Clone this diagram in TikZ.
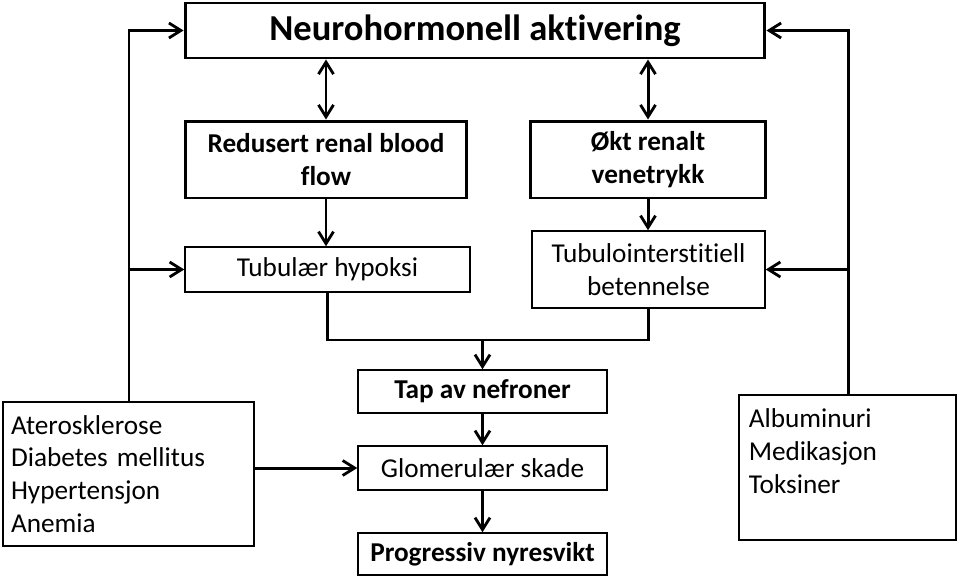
\documentclass[tikz,border=0pt]{standalone}
\usepackage{fontspec}
\setmainfont{Carlito}[Ligatures=NoCommon]
\usetikzlibrary{arrows.meta}

\tikzset{
  box/.style={draw, line width=0.85pt, inner sep=2pt, align=center,
    font=\fontsize{15.5}{18.7}\selectfont},
  hbox/.style={box, line width=1.7pt, font=\fontsize{15.5}{18.7}\selectfont\bfseries},
  link/.style={line width=1.7pt},
  >={Straight Barb[length=2.4mm,width=3mm,line width=1.6pt]}
}

\begin{document}
\begin{tikzpicture}[x=0.02cm,y=-0.02cm]
\useasboundingbox (0,0) rectangle (959,578);

% top row
\node[hbox, minimum width=11.6cm, minimum height=1.1cm,
  font=\fontsize{20.8}{22}\selectfont\bfseries] (neuro) at (475,30.5) {Neurohormonell aktivering};
\node[hbox, minimum width=5.64cm, minimum height=1.54cm] (blood) at (326,159.5) {Redusert renal blood\\flow};
\node[hbox, minimum width=4.72cm, minimum height=1.54cm] (venous) at (648,159.5) {Økt renalt\\venetrykk};

% second row
\node[box, minimum width=5.7cm, minimum height=0.9cm] (hypox) at (327.5,269.5) {Tubulær hypoksi};
\node[box, minimum width=4.66cm, minimum height=1.54cm] (inflam) at (648.5,269.5) {Tubulointerstitiell\\betennelse};

% centre column
\node[box, minimum width=4.98cm, minimum height=0.86cm, font=\fontsize{15.5}{18.7}\selectfont\bfseries] (loss) at (482.5,391.5) {Tap av nefroner};
\node[box, minimum width=4.98cm, minimum height=0.88cm] (glom) at (482.5,468) {Glomerulær skade};
\node[box, minimum width=4.98cm, minimum height=0.84cm, font=\fontsize{15.5}{18.7}\selectfont\bfseries] (fail) at (482.5,554) {Progressiv nyresvikt};

% side boxes
\node[box, align=left, text width=4.7cm, inner sep=4pt, minimum width=5.02cm, minimum height=2.88cm] (risk) at (128.5,474) {Aterosklerose\\Diabetes mellitus\\Hypertensjon\\Anemia};
\node[box, align=left, text width=3.95cm, inner sep=4pt, minimum width=4.34cm, minimum height=2.9cm] (other) at (847.5,467.5) {Albuminuri\\Medikasjon\\Toksiner\\\mbox{}};

% links
\draw[link, <->] (neuro.south -| blood.north) -- (blood.north);
\draw[link, <->] (neuro.south -| venous.north) -- (venous.north);
\draw[link, ->] (blood.south) -- (blood.south |- hypox.north);
\draw[link, ->] (venous.south) -- (venous.south |- inflam.north);

\coordinate (join) at (482.5,340);
\draw[link] (hypox.south) |- (join) -| (inflam.south);
\draw[link, ->] (join) -- (loss.north);
\draw[link, ->] (loss) -- (glom);
\draw[link, ->] (glom) -- (fail);
\draw[link, ->] (risk.east |- glom.west) -- (glom.west);

\coordinate (lfoot) at (129,402);
\coordinate (rfoot) at (848,395);
\draw[link, ->] (lfoot) |- (neuro.west);
\draw[link, ->] (lfoot |- hypox.west) -- (hypox.west);
\draw[link, ->] (rfoot) |- (neuro.east);
\draw[link, ->] (rfoot |- inflam.east) -- (inflam.east);
\end{tikzpicture}
\end{document}
